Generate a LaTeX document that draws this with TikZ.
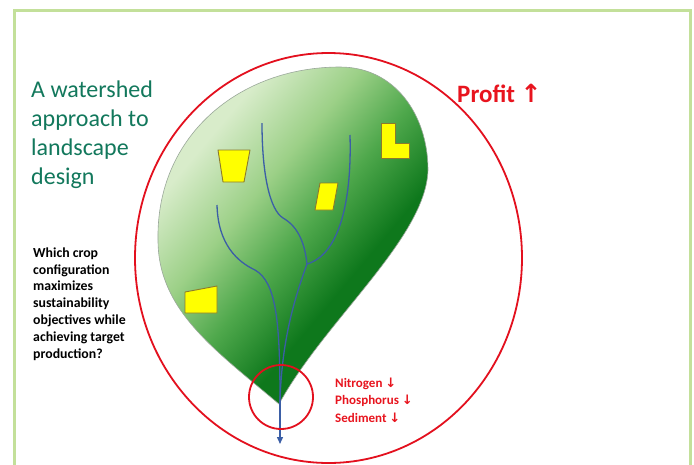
\documentclass[tikz,border=0pt]{standalone}
\usepackage{fontspec}
\setmainfont{Carlito}
\newfontfamily\arrowfont{DejaVu Sans}
\usetikzlibrary{arrows.meta}

\definecolor{framegreen}{HTML}{C3E09A}
\definecolor{titlegreen}{HTML}{12785C}
\definecolor{ringred}{HTML}{E3101E}
\definecolor{labelred}{HTML}{E8141E}
\definecolor{riverblue}{HTML}{3B5EA6}
\definecolor{plotyellow}{HTML}{FFFF00}
\definecolor{plotedge}{HTML}{8C7A2C}
\definecolor{leafA}{HTML}{D8ECCA}
\definecolor{leafB}{HTML}{9CD087}
\definecolor{leafC}{HTML}{4FA84C}
\definecolor{leafD}{HTML}{0E781C}
\definecolor{leafrim}{HTML}{9AA89A}

% light-to-dark green ramp for the watershed
\pgfdeclarehorizontalshading{leafshade}{100bp}{%
  color(0bp)=(leafA); color(29bp)=(leafA); color(41bp)=(leafB);
  color(51bp)=(leafC); color(62bp)=(leafD); color(100bp)=(leafD)}

\begin{document}
\begin{tikzpicture}[x=1pt,y=-1pt,
  ring/.style={draw=ringred,line width=1.8pt},
  river/.style={draw=riverblue,line width=1.3pt},
  plot/.style={fill=plotyellow,draw=plotedge,line width=0.9pt,line join=round},
  titletext/.style={font=\fontsize{24}{29}\selectfont,text=titlegreen,align=left,inner sep=0pt,anchor=base west},
  questiontext/.style={font=\bfseries\fontsize{13.8}{16.8}\selectfont,text=black,align=left,inner sep=0pt,anchor=base west},
  losstext/.style={font=\bfseries\fontsize{13}{17.5}\selectfont,text=labelred,align=left,inner sep=0pt,anchor=base west},
  profittext/.style={font=\bfseries\fontsize{25}{28}\selectfont,text=labelred,inner sep=0pt,anchor=base west}]

\useasboundingbox (0,0) rectangle (694,464);
\fill[white] (0,0) rectangle (694,464);
\clip (0,0) rectangle (694,464);

% slide frame, open at the bottom
\draw[framegreen,line width=3pt] (14,480) -- (14,10) -- (690,10) -- (690,480);

% watershed outline
\shade[shading=leafshade,shading angle=-40,draw=leafrim,line width=0.6pt]
  (279,404) .. controls (215,350) and (158,310) .. (158,240)
  .. controls (156,135) and (240,67) .. (340,67)
  .. controls (395,67) and (428,115) .. (428,170)
  .. controls (426,238) and (325,320) .. (279,404) -- cycle;

% crop plots
\draw[plot] (218,150) -- (250,150) -- (244,182) -- (223,182) -- cycle;
\draw[plot] (320,183) -- (338,183) -- (333,210) -- (315,210) -- cycle;
\draw[plot] (381,123) -- (395,123) -- (395,143) -- (409,143) -- (409,158) -- (381,158) -- cycle;
\draw[plot] (185,292) -- (217,286) -- (217,313) -- (185,313) -- cycle;

% stream network
\coordinate (srcL) at (217,205);
\coordinate (srcM) at (262,123);
\coordinate (srcR) at (350,135);
\coordinate (bendM) at (283,218);
\coordinate (bendL) at (255,270);
\coordinate (join) at (307,264);
\coordinate (tip) at (280,400);
\coordinate (outlet) at (280,444);

\draw[river] (srcM) .. controls (262,175) and (270,210) .. (bendM)
  .. controls (299,227) and (305,245) .. (join);
\draw[river] (srcR) .. controls (352,205) and (338,255) .. (join);
\draw[river] (join) .. controls (294,300) and (282,340) .. (tip);
\draw[river] (srcL) .. controls (218,245) and (238,262) .. (bendL)
  .. controls (276,282) and (280,320) .. (tip);
\draw[river,-{Triangle[length=7pt,width=6pt]}] (tip) -- (outlet);

% outlet and whole-landscape boundaries
\draw[ring] (281,397) circle[radius=32];
\draw[ring] (328.5,258) ellipse[x radius=193.5,y radius=205];

% labels (the base anchor of a multi-line node sits on its last line)
\node[titletext] (title) at (31,184) {A watershed\\approach to\\landscape\\design};
\node[questiontext] (question) at (33,358) {Which crop\\configuration\\maximizes\\sustainability\\objectives while\\achieving target\\production?};
\node[profittext] (profit) at (457,102) {Profit {\arrowfont\bfseries ↑}};
\node[losstext] (losses) at (335,422) {Nitrogen {\arrowfont\bfseries ↓}\\Phosphorus {\arrowfont\bfseries ↓}\\Sediment {\arrowfont\bfseries ↓}};
\end{tikzpicture}
\end{document}
